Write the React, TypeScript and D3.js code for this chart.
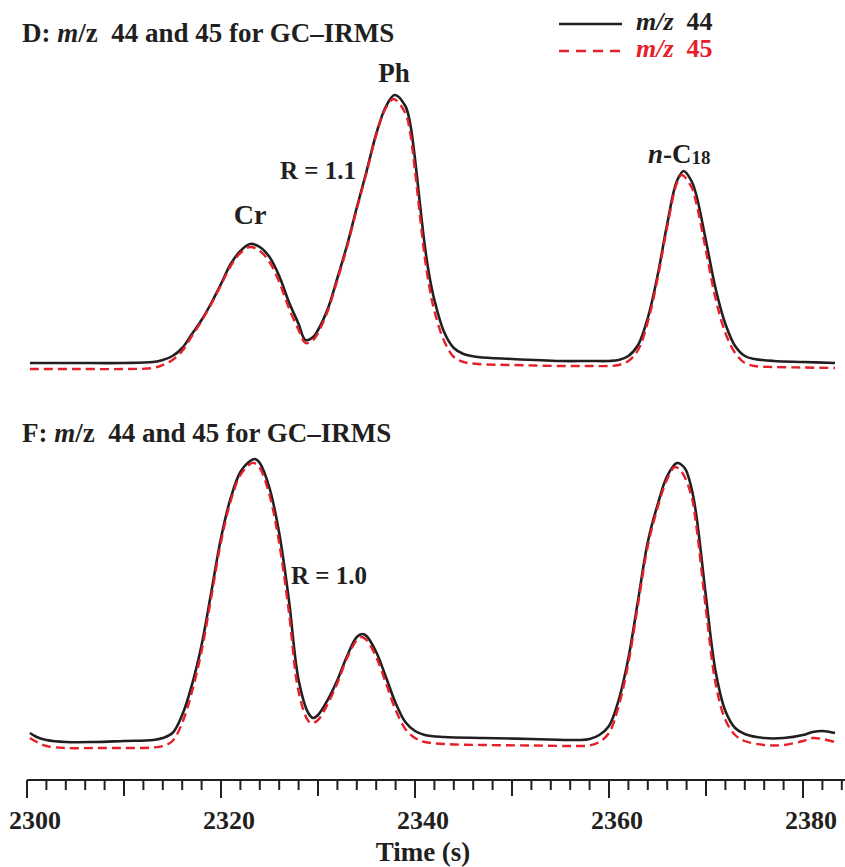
import * as d3 from 'd3'
import React, { useEffect, useRef } from 'react'

const width = 845
const height = 867

// retention time (s), signal (mV)
const d44: [number, number][] = [
  [2300.3, 120], [2305, 120], [2310, 120], [2313, 130], [2314, 150], [2315, 190], [2316, 270],
  [2317, 410], [2318, 550], [2319, 720], [2320, 910], [2321, 1110], [2322, 1240], [2323, 1310],
  [2324, 1280], [2325, 1180], [2326, 990], [2327, 730], [2328, 510], [2328.7, 350], [2329.5, 380],
  [2330, 450], [2331, 660], [2332, 970], [2333, 1300], [2334, 1675], [2335, 2035], [2336, 2410],
  [2337, 2685], [2337.9, 2800], [2339, 2690], [2339.5, 2515], [2340, 2160], [2340.5, 1720],
  [2341, 1300], [2341.5, 980], [2342, 750], [2343, 430], [2344, 270], [2345, 210], [2346.5, 180],
  [2350, 160], [2355, 140], [2358, 140], [2360, 140], [2361, 150], [2362, 190], [2363, 300],
  [2364, 570], [2365, 990], [2366, 1510], [2367, 1940], [2367.7, 2040], [2368.5, 1940], [2369, 1800],
  [2370, 1340], [2371, 860], [2372, 510], [2373, 290], [2374, 190], [2375, 160], [2377, 140],
  [2380, 130], [2383.3, 120]
]

const d45: [number, number][] = [
  [2300.3, 60], [2305, 60], [2310, 60], [2313, 70], [2314, 100], [2315, 150], [2316, 240],
  [2317, 390], [2318, 540], [2319, 710], [2320, 900], [2321, 1090], [2322, 1220], [2323, 1280],
  [2324, 1240], [2325, 1130], [2326, 930], [2327, 670], [2328, 450], [2328.7, 320], [2329.5, 350],
  [2330, 420], [2331, 640], [2332, 950], [2333, 1280], [2334, 1660], [2335, 2020], [2336, 2400],
  [2337, 2670], [2337.8, 2760], [2339, 2620], [2339.5, 2420], [2340, 2040], [2340.5, 1600],
  [2341, 1180], [2341.5, 870], [2342, 640], [2343, 340], [2344, 180], [2345, 130], [2346.5, 110],
  [2350, 100], [2355, 90], [2358, 90], [2360, 90], [2361, 100], [2362, 140], [2363, 250],
  [2364, 530], [2365, 960], [2366, 1480], [2367, 1920], [2367.5, 2000], [2368.5, 1880], [2369, 1720],
  [2370, 1240], [2371, 760], [2372, 420], [2373, 220], [2374, 120], [2375, 90], [2377, 80],
  [2380, 75], [2383.3, 70]
]

const f44: [number, number][] = [
  [2300.3, 190], [2301, 150], [2302, 120], [2304, 100], [2307, 100], [2310, 110], [2313, 120],
  [2314, 140], [2315, 190], [2316, 370], [2317, 670], [2318, 1070], [2319, 1600], [2320, 2140],
  [2321, 2540], [2322, 2800], [2323, 2910], [2323.5, 2930], [2324, 2890], [2325, 2640], [2326, 2190],
  [2327, 1520], [2328, 720], [2329, 390], [2329.5, 340], [2330, 370], [2331, 520], [2332, 720],
  [2333, 960], [2334, 1150], [2334.6, 1180], [2335, 1160], [2336, 1000], [2337, 750], [2338, 490],
  [2339, 300], [2340, 210], [2341, 170], [2343, 150], [2347, 140], [2352, 130], [2357, 120],
  [2358, 130], [2359, 170], [2360, 260], [2361, 520], [2362, 940], [2363, 1520], [2364, 2100],
  [2365, 2470], [2366, 2760], [2367, 2890], [2367.8, 2840], [2368.5, 2640], [2369, 2370], [2370, 1550],
  [2371, 800], [2372, 410], [2373, 240], [2374, 180], [2376, 140], [2378, 140], [2380, 170],
  [2381, 200], [2382, 210], [2383.3, 190]
]

const f45: [number, number][] = [
  [2300.3, 140], [2301, 100], [2302, 60], [2304, 40], [2307, 40], [2310, 40], [2313, 45],
  [2314, 60], [2315, 110], [2316, 290], [2317, 600], [2318, 1010], [2319, 1550], [2320, 2100],
  [2321, 2510], [2322, 2770], [2323, 2880], [2323.4, 2890], [2324, 2840], [2325, 2570], [2326, 2090],
  [2327, 1400], [2328, 600], [2329, 310], [2329.4, 290], [2330, 320], [2331, 480], [2332, 690],
  [2333, 940], [2334, 1120], [2334.5, 1150], [2335, 1120], [2336, 950], [2337, 690], [2338, 420],
  [2339, 230], [2340, 140], [2341, 100], [2343, 80], [2347, 70], [2352, 65], [2357, 60],
  [2358, 65], [2359, 100], [2360, 190], [2361, 460], [2362, 890], [2363, 1480], [2364, 2060],
  [2365, 2440], [2366, 2730], [2366.8, 2850], [2367.5, 2800], [2368.5, 2560], [2369, 2260], [2370, 1420],
  [2371, 680], [2372, 320], [2373, 170], [2374, 110], [2376, 70], [2378, 70], [2380, 110],
  [2381, 140], [2382, 130], [2383.3, 100]
]

const majorTicks = [2300, 2320, 2340, 2360, 2380]
const midTicks = [2310, 2330, 2350, 2370]
const seriesNames = ['44', '45']
const seriesColors = ['#231f20', '#e6202a']

const ink = '#231f20'
const font = '"Liberation Serif", "Times New Roman", serif'

function drawChart (node: SVGSVGElement) {
  const svg = d3.select(node)
  svg.selectAll('*').remove()

  const x = d3.scaleLinear().domain([2300, 2380]).range([27, 803])
  const yD = d3.scaleLinear().domain([0, 3000]).range([375, 75])
  const yF = d3.scaleLinear().domain([0, 3000]).range([752, 452])

  const trace = (y: d3.ScaleLinear<number, number>) => d3.line<[number, number]>()
    .x(d => x(d[0]))
    .y(d => y(d[1]))
    .curve(d3.curveCatmullRom.alpha(0.5))

  const panels = [
    { y: yD, s44: d44, s45: d45 },
    { y: yF, s44: f44, s45: f45 }
  ]
  panels.forEach(p => {
    svg.append('path').attr('d', trace(p.y)(p.s44))
      .attr('fill', 'none').attr('stroke', seriesColors[0]).attr('stroke-width', 2.6)
    svg.append('path').attr('d', trace(p.y)(p.s45))
      .attr('fill', 'none').attr('stroke', seriesColors[1]).attr('stroke-width', 2.4)
      .attr('stroke-dasharray', '9,5')
  })

  // time axis
  const axisY = 780
  const g = svg.append('g')
  g.append('line').attr('x1', x(2300)).attr('x2', width).attr('y1', axisY).attr('y2', axisY)
    .attr('stroke', ink).attr('stroke-width', 2.2)
  const allTicks = d3.range(2300, 2385, 2)
  g.selectAll('line.tick').data(allTicks).enter().append('line')
    .attr('class', 'tick')
    .attr('x1', d => x(d)).attr('x2', d => x(d))
    .attr('y1', axisY)
    .attr('y2', d => axisY + (majorTicks.includes(d) ? 18 : midTicks.includes(d) ? 16 : 10))
    .attr('stroke', ink).attr('stroke-width', 2)
  g.selectAll('text.tl').data(majorTicks).enter().append('text')
    .attr('class', 'tl')
    .attr('x', d => x(d) + 8).attr('y', 829)
    .attr('text-anchor', 'middle')
    .attr('font-size', 26).attr('font-weight', 'bold')
    .text(d => d)
  g.append('text').attr('x', 423).attr('y', 861).attr('text-anchor', 'middle')
    .attr('font-size', 27).attr('font-weight', 'bold').text('Time (s)')

  // panel titles
  const titles = [['D', 42], ['F', 442]] as const
  titles.forEach(([k, ty]) => {
    const t = svg.append('text').attr('x', 22).attr('y', ty)
      .attr('font-size', 27).attr('font-weight', 'bold').style('white-space', 'pre')
    t.append('tspan').text(k + ': ')
    t.append('tspan').attr('font-style', 'italic').text('m')
    t.append('tspan').text('/z  44 and 45 for GC\u2013IRMS')
  })

  // legend
  seriesNames.forEach((n, i) => {
    const ly = 24 + i * 27
    svg.append('line').attr('x1', 559).attr('x2', 622).attr('y1', ly).attr('y2', ly)
      .attr('stroke', seriesColors[i]).attr('stroke-width', 2.4)
      .attr('stroke-dasharray', i === 1 ? '10,7' : null)
    const t = svg.append('text').attr('x', 636).attr('y', ly + 6)
      .attr('font-size', 26).attr('font-weight', 'bold').attr('fill', seriesColors[i])
      .style('white-space', 'pre')
    t.append('tspan').attr('font-style', 'italic').text('m/z')
    t.append('tspan').text('  ' + n)
  })

  // peak labels
  const lab = (tx: number, ty: number, size: number, anchor = 'start') =>
    svg.append('text').attr('x', tx).attr('y', ty).attr('text-anchor', anchor)
      .attr('font-size', size).attr('font-weight', 'bold')
  lab(250, 224, 28, 'middle').text('Cr')
  lab(394, 82, 27, 'middle').text('Ph')
  lab(280, 179, 25).text('R = 1.1')
  lab(291, 584, 25).text('R = 1.0')
  const nc = lab(648, 163, 27)
  nc.append('tspan').attr('font-style', 'italic').text('n')
  nc.append('tspan').text('-C')
  nc.append('tspan').attr('font-size', 19).attr('dy', 1).text('18')
}

export default function App () {
  const ref = useRef<SVGSVGElement>(null)
  useEffect(() => {
    if (ref.current) drawChart(ref.current)
  }, [])
  return (
    <svg
      ref={ref}
      width={width}
      height={height}
      viewBox={`0 0 ${width} ${height}`}
      style={{ position: 'absolute', left: 0, top: 0, background: '#fff', fontFamily: font, fill: ink }}
    />
  )
}
